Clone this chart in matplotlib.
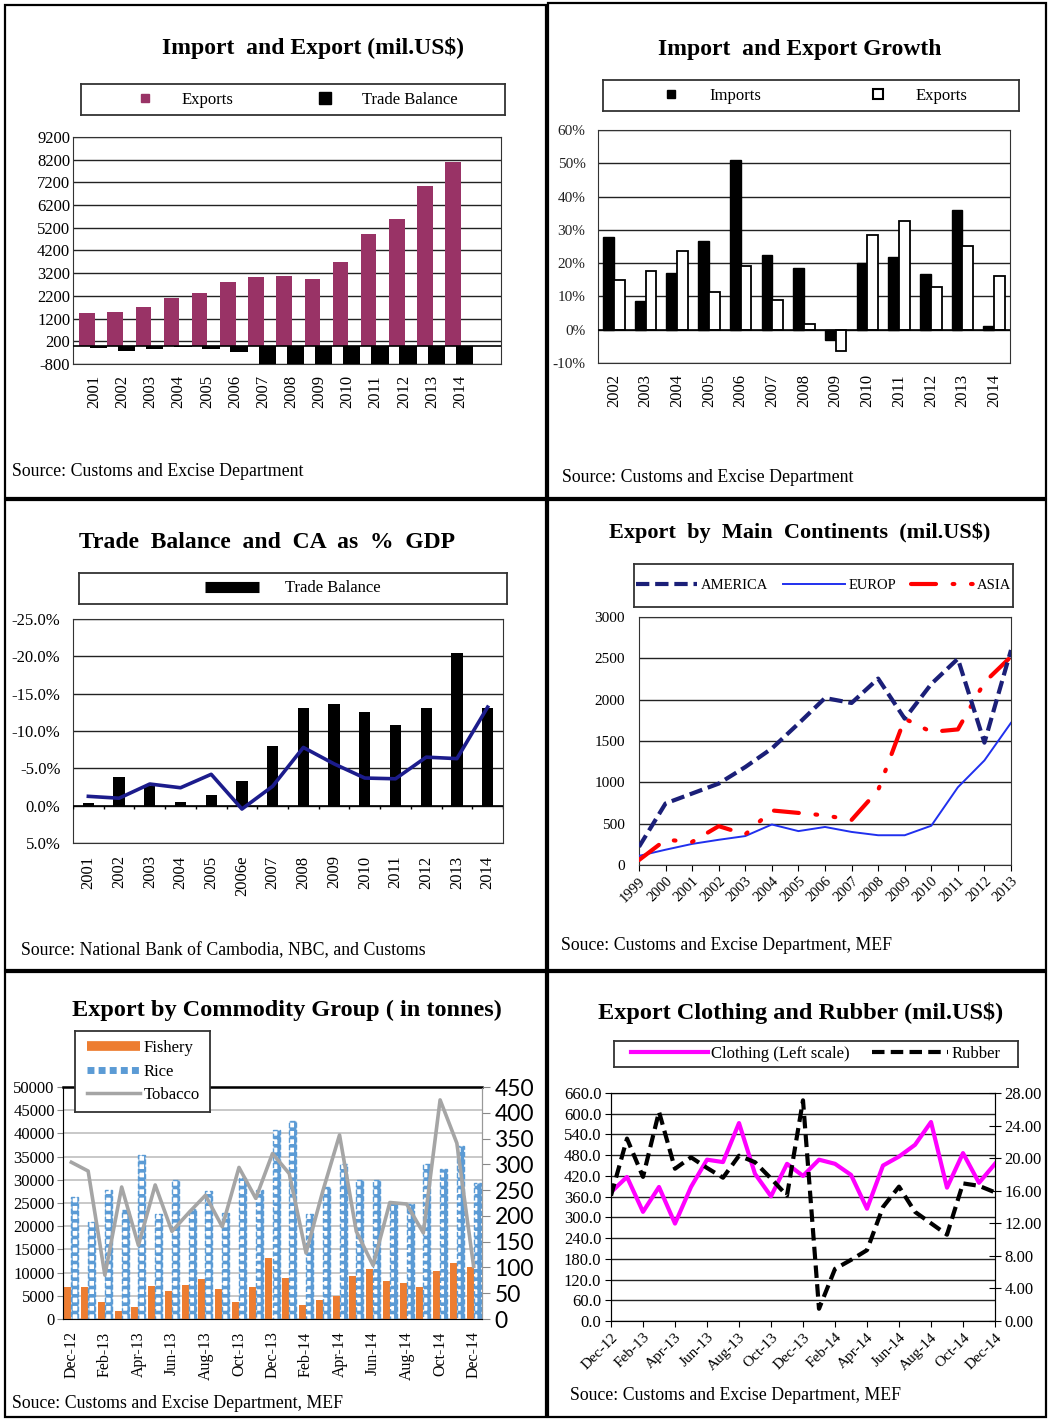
import numpy as np
import matplotlib
matplotlib.use('Agg')
import matplotlib.pyplot as plt
from matplotlib.lines import Line2D
from matplotlib.patches import Rectangle

plt.rcParams['font.family'] = ['Liberation Serif', 'DejaVu Serif']
plt.rcParams['hatch.linewidth'] = 2.6
plt.rcParams['axes.unicode_minus'] = False

# ---- data: import and export (mil. US$) ----
years1 = ['2001', '2002', '2003', '2004', '2005', '2006', '2007',
          '2008', '2009', '2010', '2011', '2012', '2013', '2014']
exports1 = [1460, 1480, 1700, 2120, 2340, 2800, 3020, 3080, 2930, 3710, 4910, 5570, 7030, 8100]
trade_bal1 = [-80, -225, -140, -65, -150, -270, -1500, -1900, -1600, -2000, -2400, -2800, -3500, -2900]

# ---- data: import and export growth (%) ----
years2 = ['2002', '2003', '2004', '2005', '2006', '2007', '2008',
          '2009', '2010', '2011', '2012', '2013', '2014']
imports_gr = [28.0, 8.5, 17.0, 26.6, 51.0, 22.4, 18.6, -3.0, 19.9, 21.9, 16.7, 36.1, 1.0]
exports_gr = [15.0, 17.5, 23.6, 11.3, 19.2, 8.8, 1.8, -6.4, 28.6, 32.6, 12.8, 25.2, 16.2]

# ---- data: trade balance and CA as % GDP ----
years3 = ['2001', '2002', '2003', '2004', '2005', '2006e', '2007',
          '2008', '2009', '2010', '2011', '2012', '2013', '2014']
trade_gdp = [-0.3, -3.9, -2.6, -0.45, -1.4, -3.3, -8.0, -13.1, -13.6, -12.6, -10.8, -13.1, -20.4, -13.1]
ca_gdp = [-1.25, -1.0, -2.9, -2.4, -4.2, 0.45, -2.6, -7.8, -5.6, -3.7, -3.6, -6.5, -6.3, -13.2]

# ---- data: export by main continents ----
years4 = list(range(1999, 2014))
america = [220, 745, 865, 985, 1185, 1410, 1710, 2020, 1960, 2255, 1770, 2190, 2495, 1480, 2600]
europ = [110, 185, 255, 305, 350, 490, 410, 460, 400, 360, 360, 475, 940, 1265, 1720]
asia = [60, 305, 280, 470, 370, 660, 630, 600, 545, 905, 1770, 1610, 1640, 2210, 2520]

# ---- data: export by commodity group (tonnes) ----
months = ['Dec-12', 'Jan-13', 'Feb-13', 'Mar-13', 'Apr-13', 'May-13', 'Jun-13',
          'Jul-13', 'Aug-13', 'Sep-13', 'Oct-13', 'Nov-13', 'Dec-13', 'Jan-14',
          'Feb-14', 'Mar-14', 'Apr-14', 'May-14', 'Jun-14', 'Jul-14', 'Aug-14',
          'Sep-14', 'Oct-14', 'Nov-14', 'Dec-14']
fishery = [6800, 7000, 3700, 1800, 2600, 7100, 6000, 7300, 8700, 6500, 3700, 7000, 13150,
           8900, 3100, 4000, 5000, 9300, 10700, 8200, 7700, 6900, 10300, 12100, 11300]
rice = [26400, 21000, 27900, 23500, 35300, 22600, 29900, 23600, 27500, 22900, 30400, 27900, 40800,
        42600, 22700, 28500, 33500, 30000, 30000, 25000, 24700, 33400, 32400, 37300, 29300]
tobacco = [304, 287, 85, 256, 143, 260, 170, 206, 240, 179, 294, 234, 321,
           282, 128, 248, 357, 170, 104, 226, 223, 167, 425, 341, 102]

# ---- data: export clothing and rubber (mil. US$) ----
clothing = [373, 417, 316, 388, 282, 388, 467, 460, 573, 426, 361, 455, 420,
            467, 455, 423, 325, 450, 476, 510, 576, 386, 486, 400, 455]
rubber = [15.4, 22.4, 17.7, 25.7, 18.7, 20.1, 18.8, 17.6, 20.3, 19.5, 17.5, 15.4, 27.1,
          1.5, 6.4, 7.5, 8.7, 14.0, 16.5, 13.4, 12.0, 10.6, 16.9, 16.6, 15.8]

W, H = 1048, 1419
fig = plt.figure(figsize=(W / 100, H / 100), dpi=100)


def add_ax(x0, y0, x1, y1):
    return fig.add_axes([x0 / W, 1 - y1 / H, (x1 - x0) / W, (y1 - y0) / H])


def legend_box(x0, y0, x1, y1):
    lax = add_ax(x0, y0, x1, y1)
    lax.set_xticks([])
    lax.set_yticks([])
    for s in lax.spines.values():
        s.set_linewidth(1.3)
        s.set_color('#333333')
    lax.set_zorder(10)
    return lax


def ftext(x, y, s, **kw):
    fig.text(x / W, 1 - y / H, s, **kw)


def box(x0, y0, x1, y1):
    fig.add_artist(Rectangle((x0 / W, 1 - y1 / H), (x1 - x0) / W, (y1 - y0) / H,
                             transform=fig.transFigure, fill=False, lw=1.6, color='black'))


title_kw = dict(ha='center', va='center', fontweight='bold', fontsize=17)
src_kw = dict(ha='left', va='center', fontsize=12.8)

# panel borders
box(5, 5, 546, 498)
box(548, 3, 1046, 498)
box(5, 500, 546, 970)
box(548, 500, 1046, 970)
box(5, 972, 546, 1417)
box(548, 972, 1046, 1417)

# ================= Panel 1 =================
x1 = np.arange(len(years1))
ax1 = add_ax(73, 137, 501, 364)
ax1.bar(x1 - 0.25, exports1, width=0.55, color='#993366', zorder=2)
ax1.bar(x1 + 0.15, trade_bal1, width=0.62, color='black', zorder=3)
ax1.axhline(0, color='black', lw=1.2, zorder=4)
ax1.set_ylim(-800, 9200)
ax1.set_xlim(-0.75, 14.45)
ax1.set_yticks(np.arange(-800, 9201, 1000))
ax1.yaxis.grid(True, color='#222222', lw=1)
ax1.set_axisbelow(True)
ax1.set_xticks(x1)
ax1.set_xticklabels(years1, rotation=90)
ax1.tick_params(axis='y', labelsize=12, length=0, pad=2)
ax1.tick_params(axis='x', labelsize=12, length=0, pad=8)
for s in ax1.spines.values():
    s.set_color('#333333')
ftext(313, 48, 'Import  and Export (mil.US$)', **title_kw)
lg1 = legend_box(81, 84, 505, 115)
lg1.legend([Line2D([], [], ls='none', marker='s', ms=6, color='#993366'),
            Line2D([], [], ls='none', marker='s', ms=8, color='black')],
           ['Exports', 'Trade Balance'], loc='center', ncol=2, frameon=False,
           fontsize=12, columnspacing=4.5, handletextpad=1.2)
ftext(12, 471, 'Source: Customs and Excise Department', **src_kw)

# ================= Panel 2 =================
x2 = np.arange(len(years2))
ax2 = add_ax(598, 130, 1010, 363)
ax2.bar(x2 - 0.17, imports_gr, width=0.34, color='black', edgecolor='black', lw=1, zorder=2)
ax2.bar(x2 + 0.17, exports_gr, width=0.34, color='white', edgecolor='black', lw=1.3, zorder=2)
ax2.axhline(0, color='black', lw=1.2, zorder=3)
ax2.set_ylim(-10, 60)
ax2.set_xlim(-0.5, len(years2) - 0.5)
ax2.set_yticks(np.arange(-10, 61, 10))
ax2.set_yticklabels([f'{v}%' for v in range(-10, 61, 10)])
ax2.yaxis.grid(True, color='#222222', lw=1)
ax2.set_axisbelow(True)
ax2.set_xticks(x2)
ax2.set_xticklabels(years2, rotation=90)
ax2.tick_params(axis='y', labelsize=11, length=0, pad=9, colors='#222222')
ax2.tick_params(axis='x', labelsize=12, length=0, pad=8)
for s in ax2.spines.values():
    s.set_color('#333333')
ftext(800, 50, 'Import  and Export Growth', **title_kw)
lg2 = legend_box(603, 80, 1019, 111)
lg2.legend([Line2D([], [], ls='none', marker='s', ms=6, color='black'),
            Line2D([], [], ls='none', marker='s', ms=7, mfc='white', mec='black', mew=1.5)],
           ['Imports', 'Exports'], loc='center', ncol=2, frameon=False,
           fontsize=12, columnspacing=6, handletextpad=1.3)
ftext(562, 477, 'Source: Customs and Excise Department', **src_kw)

# ================= Panel 3 =================
x3 = np.arange(len(years3))
ax3 = add_ax(73, 619, 503, 843)
ax3.bar(x3, trade_gdp, width=0.37, color='black', zorder=2)
ax3.plot(x3, ca_gdp, color='#1c1c8c', lw=2.6, zorder=4)
ax3.axhline(0, color='black', lw=1.2, zorder=3)
ax3.vlines(np.arange(-0.5, len(years3)), 0, 0.5, color='black', lw=1, zorder=3)
ax3.set_ylim(5, -25)
ax3.set_xlim(-0.5, len(years3) - 0.5)
ax3.set_yticks(np.arange(-25, 6, 5))
ax3.set_yticklabels([f'{v:.1f}%' for v in np.arange(-25, 6, 5)])
ax3.yaxis.grid(True, color='#222222', lw=1)
ax3.set_axisbelow(True)
ax3.set_xticks(x3)
ax3.set_xticklabels(years3, rotation=90)
ax3.tick_params(axis='y', labelsize=12, length=0, pad=9)
ax3.tick_params(axis='x', labelsize=12, length=0, pad=9)
for s in ax3.spines.values():
    s.set_color('#333333')
ftext(267, 543, 'Trade  Balance  and  CA  as  %  GDP', **title_kw)
lg3 = legend_box(79, 573, 507, 604)
lg3.legend([Line2D([], [], color='black', lw=8, solid_capstyle='butt')],
           ['Trade Balance'], loc='center', frameon=False, fontsize=12,
           handlelength=3.2, handletextpad=1.6)
ftext(21, 951, 'Source: National Bank of Cambodia, NBC, and Customs', **src_kw)

# ================= Panel 4 =================
ax4 = add_ax(639, 617, 1011, 865)
ax4.plot(years4, europ, color='#2030ee', lw=1.4, zorder=3)
ax4.plot(years4, asia, color='#ff0000', lw=3, zorder=4,
         ls=(0, (6, 4, 0.4, 4, 0.4, 4)), dash_capstyle='round')
ax4.plot(years4, america, color='#1b1f78', lw=3, zorder=5, ls=(0, (3.2, 1.4)))
ax4.set_xlim(1999, 2013)
ax4.set_ylim(0, 3000)
ax4.set_yticks(np.arange(0, 3001, 500))
ax4.yaxis.grid(True, color='#222222', lw=1)
ax4.set_axisbelow(True)
ax4.set_xticks(years4)
ax4.set_xticklabels([str(y) for y in years4], rotation=45, ha='right', rotation_mode='anchor')
ax4.tick_params(axis='y', labelsize=11, length=0, pad=10)
ax4.tick_params(axis='x', labelsize=10.5, length=4, pad=3)
for s in ax4.spines.values():
    s.set_color('#333333')
ftext(800, 533, 'Export  by  Main  Continents  (mil.US$)', ha='center', va='center',
      fontweight='bold', fontsize=16)
lg4 = legend_box(634, 564, 1013, 607)
lg4.legend([Line2D([], [], color='#1b1f78', lw=3, ls=(0, (3.2, 1.4))),
            Line2D([], [], color='#2030ee', lw=1.4),
            Line2D([], [], color='#ff0000', lw=3, ls=(0, (6, 4, 0.4, 4, 0.4, 4)),
                   dash_capstyle='round')],
           ['AMERICA', 'EUROP', 'ASIA'], loc='center', ncol=3, frameon=False,
           fontsize=10.5, handlelength=4.2, handletextpad=0.3, columnspacing=1.0)
ftext(561, 945, 'Souce: Customs and Excise Department, MEF', **src_kw)

# ================= Panel 5 =================
x5 = np.arange(len(months))
ax5 = add_ax(63, 1087, 482, 1319)
ax5.bar(x5 - 0.21, fishery, width=0.42, color='#ED7D31', zorder=2)
ax5.bar(x5 + 0.21, rice, width=0.42, facecolor='white', edgecolor='#5B9BD5',
        hatch='++', lw=1, ls='--', zorder=2)
ax5.set_ylim(0, 50000)
ax5.set_xlim(-0.5, len(months) - 0.5)
ax5.set_yticks(np.arange(0, 50001, 5000))
ax5.yaxis.grid(True, color='#bfbfbf', lw=1.2)
ax5.set_axisbelow(True)
ax5.set_xticks(x5[::2])
ax5.set_xticklabels(months[::2], rotation=90)
ax5.tick_params(axis='y', labelsize=12, length=4, color='#888888', pad=2)
ax5.tick_params(axis='x', labelsize=11.5, length=0, pad=9)
for s in ax5.spines.values():
    s.set_color('#999999')
ax5.spines['top'].set_color('black')
ax5.spines['top'].set_linewidth(1.8)
ax5b = ax5.twinx()
ax5b.plot(x5, tobacco, color='#A5A5A5', lw=2.6, zorder=4)
ax5b.set_ylim(0, 450)
ax5b.set_yticks(np.arange(0, 451, 50))
ax5b.tick_params(axis='y', labelsize=16.5, length=6, color='#888888', pad=3)
for lab in ax5b.get_yticklabels():
    lab.set_family(['Lato', 'DejaVu Sans'])
ax5b.spines['right'].set_color('#999999')
ftext(287, 1010, 'Export by Commodity Group ( in tonnes)', **dict(title_kw, fontsize=17.5))
lg5 = legend_box(75, 1031, 210, 1112)
lg5.legend([Line2D([], [], color='#ED7D31', lw=7, solid_capstyle='butt'),
            Line2D([], [], color='#5B9BD5', lw=5, ls=(0, (1.0, 0.6))),
            Line2D([], [], color='#A5A5A5', lw=2.5)],
           ['Fishery', 'Rice', 'Tobacco'], loc='center left', frameon=False,
           fontsize=12, handlelength=3.2, handletextpad=0.2, labelspacing=0.45,
           borderaxespad=0.3)
ftext(12, 1403, 'Souce: Customs and Excise Department, MEF', **src_kw)

# ================= Panel 6 =================
x6 = np.arange(len(months))
ax6 = add_ax(611, 1093, 995, 1321)
ax6.plot(x6, clothing, color='#ff00ff', lw=3, zorder=4)
ax6.set_ylim(0, 660)
ax6.set_xlim(0, len(months) - 1)
ax6.set_yticks(np.arange(0, 661, 60))
ax6.set_yticklabels([f'{v:.1f}' for v in np.arange(0, 661, 60)])
ax6.yaxis.grid(True, color='#222222', lw=1)
ax6.set_axisbelow(True)
ax6.set_xticks(x6[::2])
ax6.set_xticklabels(months[::2], rotation=45, ha='right', rotation_mode='anchor')
ax6.tick_params(axis='y', labelsize=12, length=4, pad=3)
ax6.tick_params(axis='x', labelsize=11, length=4, pad=3)
for s in ax6.spines.values():
    s.set_color('#333333')
ax6b = ax6.twinx()
ax6b.plot(x6, rubber, color='black', lw=3, ls=(0, (3, 1.5)), zorder=3)
ax6b.set_ylim(0, 28)
ax6b.set_yticks(np.arange(0, 29, 4))
ax6b.set_yticklabels([f'{v:.2f}' for v in np.arange(0, 29, 4)])
ax6b.tick_params(axis='y', labelsize=12, length=8, direction='inout', pad=3)
ftext(801, 1013, 'Export Clothing and Rubber (mil.US$)', **dict(title_kw, fontsize=17.5))
lg6 = legend_box(614, 1041, 1018, 1067)
lg6.legend([Line2D([], [], color='#ff00ff', lw=3),
            Line2D([], [], color='black', lw=3, ls=(0, (3, 1.5)))],
           ['Clothing (Left scale)', 'Rubber'], loc='center', ncol=2, frameon=False,
           fontsize=12, handlelength=4.6, handletextpad=0.2, columnspacing=1.3)
ftext(570, 1395, 'Souce: Customs and Excise Department, MEF', **src_kw)

fig.savefig('out.png', dpi=100)
